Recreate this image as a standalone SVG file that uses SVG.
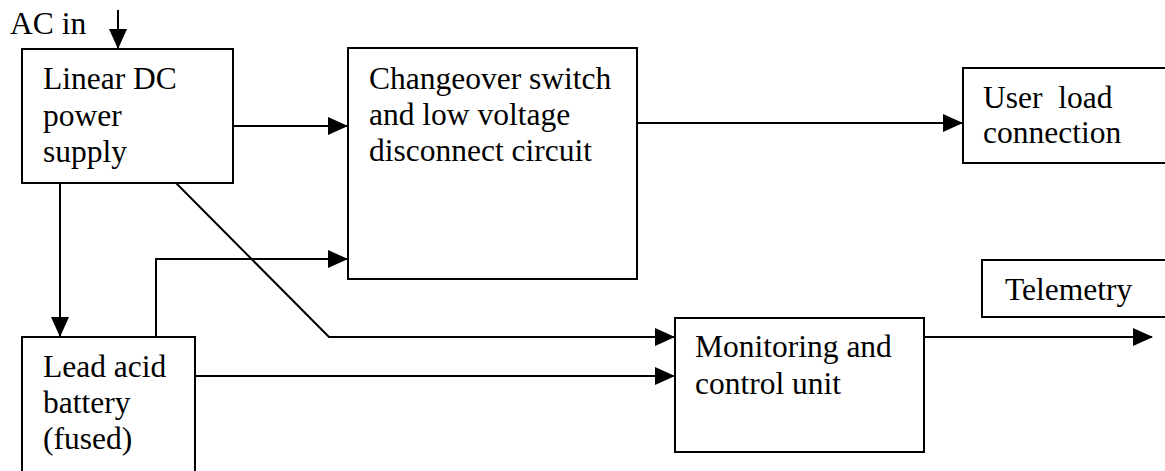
<svg xmlns="http://www.w3.org/2000/svg" width="1165" height="471" viewBox="0 0 1165 471">
<defs>
<marker id="ah" markerUnits="userSpaceOnUse" markerWidth="20" markerHeight="20" viewBox="0 0 20 18" refX="19" refY="9" orient="auto">
<path d="M0,0 L20,9 L0,18 Z" fill="#000"/>
</marker>
</defs>
<style>
.n rect{fill:#fff;stroke:#000;stroke-width:2}
.t{font-family:'Liberation Serif','DejaVu Serif',serif;font-size:31.5px;fill:#000}
.c path,.c line{fill:none;stroke:#000;stroke-width:2}
</style>
<rect width="1165" height="471" style="fill:#fff;stroke:none"/>
<g class="t" font-family="Liberation Serif, serif">
<text x="10" y="34">AC in</text>
<g class="n" id="n-linear"><rect x="22" y="49" width="211" height="134"/>
<text x="43" y="89">Linear DC</text><text x="43" y="126">power</text><text x="43" y="162">supply</text></g>
<g class="n" id="n-changeover"><rect x="348" y="48" width="289" height="231"/>
<text x="369" y="89">Changeover switch</text><text x="369" y="125">and low voltage</text><text x="369" y="161">disconnect circuit</text></g>
<g class="n" id="n-user"><rect x="963" y="68" width="220" height="95"/>
<text x="983" y="108" xml:space="preserve">User  load</text><text x="983" y="143">connection</text></g>
<g class="n" id="n-telemetry"><rect x="982" y="260" width="200" height="57"/>
<text x="1005" y="300">Telemetry</text></g>
<g class="n" id="n-battery"><rect x="22" y="337" width="173" height="150"/>
<text x="43" y="377">Lead acid</text><text x="43" y="413">battery</text><text x="43" y="449">(fused)</text></g>
<g class="n" id="n-monitor"><rect x="675" y="318" width="249" height="134"/>
<text x="695" y="357">Monitoring and</text><text x="695" y="394">control unit</text></g>
</g>
<g class="c" id="connectors">
<line x1="118" y1="10" x2="118" y2="48" marker-end="url(#ah)"/>
<line x1="233" y1="126" x2="347" y2="126" marker-end="url(#ah)"/>
<line x1="637" y1="123" x2="962" y2="123" marker-end="url(#ah)"/>
<line x1="60" y1="183" x2="60" y2="336" marker-end="url(#ah)"/>
<path d="M156,337 V259 H347" marker-end="url(#ah)"/>
<path d="M176,183 L329,337 H674" marker-end="url(#ah)"/>
<line x1="195" y1="376" x2="674" y2="376" marker-end="url(#ah)"/>
<line x1="924" y1="337" x2="1152" y2="337" marker-end="url(#ah)"/>
</g>
</svg>
